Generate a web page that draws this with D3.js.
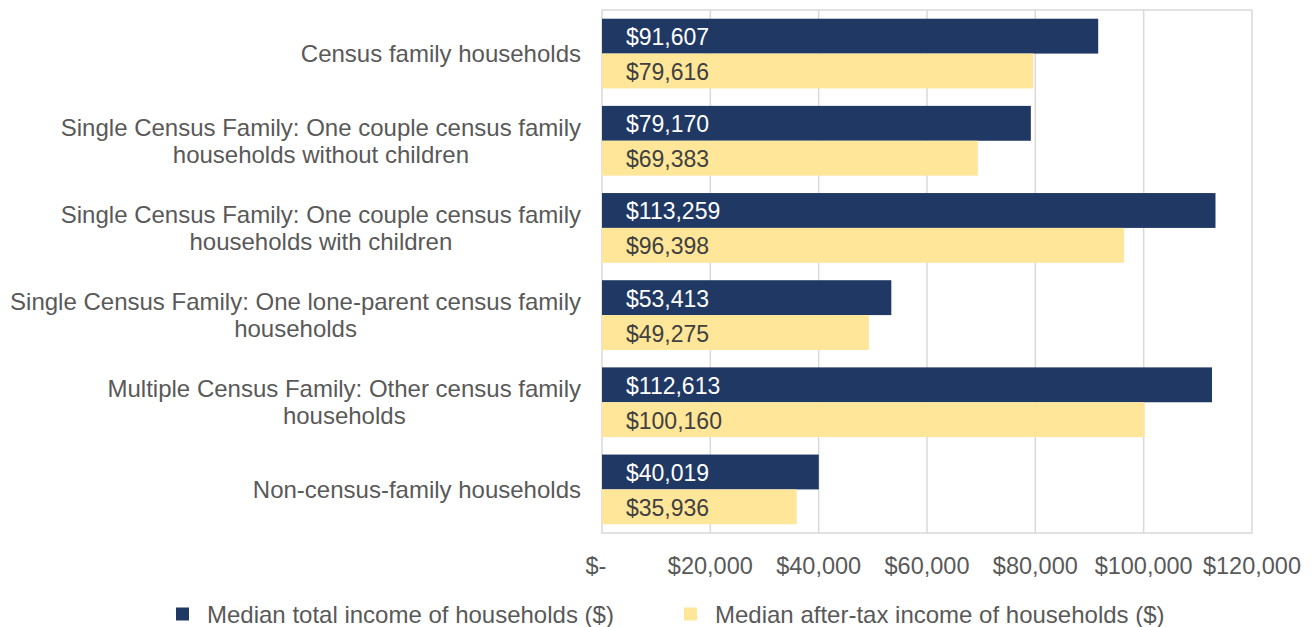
<!DOCTYPE html>
<html>
<head>
<meta charset="utf-8">
<script src="https://cdn.jsdelivr.net/npm/d3@7"></script>
<style>
  body { margin: 0; background: #fff; }
  svg { font-family: 'Liberation Sans', Arial, sans-serif; }
</style>
</head>
<body>
<svg id="chart" width="1314" height="627"></svg>
<script>
const categories = [
  'Census family households',
  'Single Census Family: One couple census family\nhouseholds without children',
  'Single Census Family: One couple census family\nhouseholds with children',
  'Single Census Family: One lone-parent census family\nhouseholds',
  'Multiple Census Family: Other census family\nhouseholds',
  'Non-census-family households'
]
const seriesNames = [
  'Median total income of households ($)',
  'Median after-tax income of households ($)'
]
const totalIncome = [91607, 79170, 113259, 53413, 112613, 40019]
const afterTaxIncome = [79616, 69383, 96398, 49275, 100160, 35936]
const tickValues = [0, 20000, 40000, 60000, 80000, 100000, 120000]

const colors = ['#203864', '#ffe699']
const labelColors = ['#ffffff', '#404040']

const width = 1314
const height = 627
const margin = { top: 10, right: 62, bottom: 94, left: 602 }

const svg = d3.select('#chart')

const x = d3
  .scaleLinear()
  .domain([0, 120000])
  .range([margin.left, width - margin.right])

const y = d3
  .scaleBand()
  .domain(categories)
  .range([margin.top, height - margin.bottom])
  .paddingInner(0.2)
  .paddingOuter(0.1)

const ySub = d3
  .scaleBand()
  .domain([0, 1])
  .range([0, y.bandwidth()])

const money = (v) => (v === 0 ? '$-' : '$' + d3.format(',')(v))

// gridlines
svg
  .append('g')
  .selectAll('line')
  .data(tickValues.slice(1, -1))
  .join('line')
  .attr('x1', (d) => x(d))
  .attr('x2', (d) => x(d))
  .attr('y1', margin.top)
  .attr('y2', height - margin.bottom)
  .attr('stroke', '#d9d9d9')
  .attr('stroke-width', 1.5)

svg
  .append('rect')
  .attr('x', margin.left)
  .attr('y', margin.top)
  .attr('width', x(120000) - margin.left)
  .attr('height', height - margin.bottom - margin.top)
  .attr('fill', 'none')
  .attr('stroke', '#d9d9d9')
  .attr('stroke-width', 1.5)

const rows = categories.map((c, i) => ({
  category: c,
  values: [totalIncome[i], afterTaxIncome[i]]
}))

const groups = svg
  .append('g')
  .selectAll('g')
  .data(rows)
  .join('g')
  .attr('transform', (d) => `translate(0,${y(d.category)})`)

groups
  .selectAll('rect')
  .data((d) => d.values.map((v, s) => ({ v, s })))
  .join('rect')
  .attr('x', x(0))
  .attr('y', (d) => ySub(d.s))
  .attr('width', (d) => x(d.v) - x(0))
  .attr('height', ySub.bandwidth())
  .attr('fill', (d) => colors[d.s])

groups
  .selectAll('text')
  .data((d) => d.values.map((v, s) => ({ v, s })))
  .join('text')
  .attr('x', x(0) + 24)
  .attr('y', (d) => ySub(d.s) + ySub.bandwidth() / 2 + 1)
  .attr('dominant-baseline', 'central')
  .attr('font-size', 23)
  .attr('fill', (d) => labelColors[d.s])
  .text((d) => money(d.v))

// category labels, lines centred on each other, block right-aligned
const labelRight = margin.left - 21
const lineGap = 27
categories.forEach((c) => {
  const lines = c.split('\n')
  const g = svg.append('g')
  const texts = lines.map((line, i) =>
    g
      .append('text')
      .attr('y', y(c) + y.bandwidth() / 2 + (i - (lines.length - 1) / 2) * lineGap)
      .attr('dominant-baseline', 'central')
      .attr('text-anchor', 'middle')
      .attr('font-size', 24)
      .attr('fill', '#595959')
      .text(line)
  )
  const w = d3.max(texts, (t) => t.node().getComputedTextLength())
  texts.forEach((t) => t.attr('x', labelRight - w / 2))
})

// x tick labels
svg
  .append('g')
  .selectAll('text')
  .data(tickValues)
  .join('text')
  .attr('x', (d) => x(d) + (d === 0 ? -6 : 0))
  .attr('y', 566)
  .attr('dominant-baseline', 'central')
  .attr('text-anchor', 'middle')
  .attr('font-size', 23.5)
  .attr('fill', '#595959')
  .text(money)

// legend
const legendX = [176, 684]
const legend = svg
  .append('g')
  .selectAll('g')
  .data(seriesNames)
  .join('g')
  .attr('transform', (d, i) => `translate(${legendX[i]},614)`)

legend
  .append('rect')
  .attr('x', 0)
  .attr('y', -6.5)
  .attr('width', 13)
  .attr('height', 13)
  .attr('fill', (d, i) => colors[i])

legend
  .append('text')
  .attr('x', 31)
  .attr('y', 0)
  .attr('dominant-baseline', 'central')
  .attr('font-size', 24)
  .attr('fill', '#595959')
  .text((d) => d)
</script>
</body>
</html>
